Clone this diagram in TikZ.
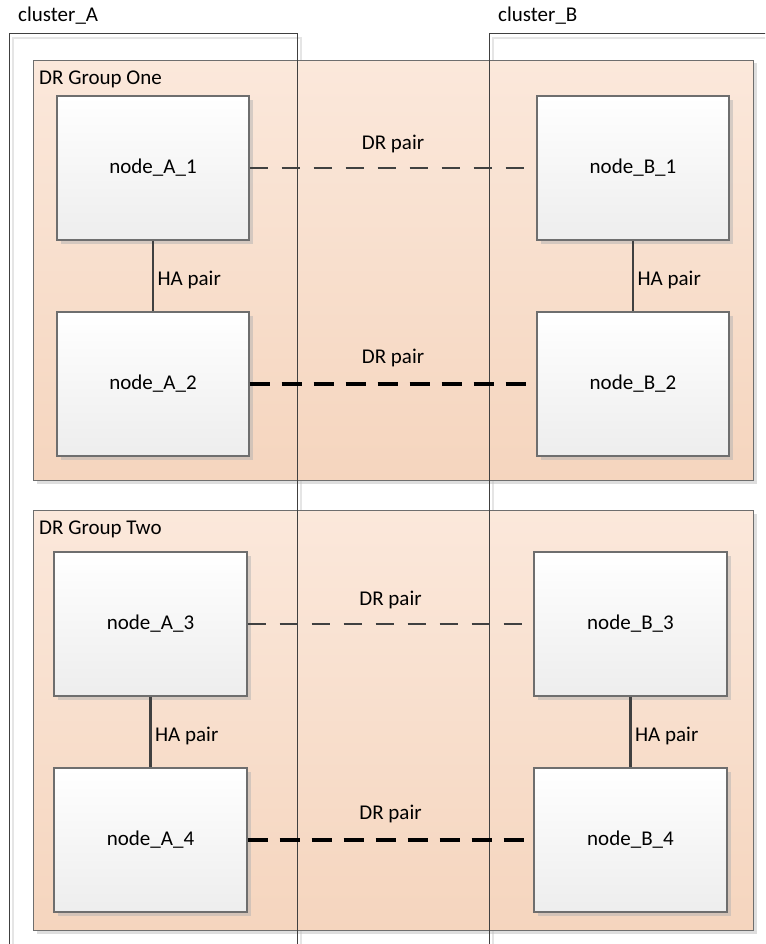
\documentclass[tikz,border=0pt]{standalone}
\usepackage{fontspec}
\setmainfont{Carlito}
\usetikzlibrary{shadows}
\definecolor{edgegray}{RGB}{64,64,64}
\definecolor{boxgray}{RGB}{110,110,110}
\definecolor{grptop}{RGB}{251,232,219}
\definecolor{grpbot}{RGB}{245,213,190}
\begin{document}
\begin{tikzpicture}[x=1pt,y=-1pt,
  every node/.style={font=\fontsize{21}{25}\selectfont},
  grpbox/.style={draw=boxgray,line width=1pt,top color=grptop,bottom color=grpbot,
    drop shadow={shadow xshift=3pt,shadow yshift=-3pt,fill=black!25,opacity=0.5},
    inner sep=0pt,anchor=north west},
  nodebox/.style={draw=boxgray,line width=1.3pt,top color=white,bottom color=black!7,
    drop shadow={shadow xshift=4pt,shadow yshift=-4pt,fill=black!30,opacity=0.5},
    minimum height=144pt,inner sep=0pt},
  clusterline/.style={draw=edgegray,line width=1pt},
  clustershadow/.style={draw=black!10,line width=2pt},
  hapair/.style={draw=edgegray,line width=2.6pt},
  halbl/.style={right,yshift=-4pt},
  drthin/.style={draw=edgegray,line width=2.6pt,dash pattern=on 18pt off 14pt},
  drthick/.style={draw=black,line width=3.4pt,dash pattern=on 20pt off 12pt},
  lbl/.style={inner sep=0pt,anchor=west}]
\useasboundingbox (0,0) rectangle (765,944);
\clip (0,0) rectangle (765,944);
\fill[white] (0,0) rectangle (765,944);

% cluster shadows
\draw[clustershadow] (13,38) rectangle (301,960);
\draw[clustershadow] (493,38) rectangle (790,960);

% DR groups
\node[grpbox,minimum width=720pt,minimum height=420pt] (grp1) at (33,60) {};
\node[grpbox,minimum width=720pt,minimum height=420pt] (grp2) at (33,510) {};
\node[lbl] (grp1lbl) at (39,79) {DR Group One};
\node[lbl] (grp2lbl) at (39,529) {DR Group Two};

% clusters
\draw[clusterline] (9,34) rectangle (297,960);
\draw[clusterline] (489,34) rectangle (790,960);
\node[lbl] (clA) at (18,16) {cluster\_A};
\node[lbl] (clB) at (498,16) {cluster\_B};

% storage nodes
\node[nodebox,minimum width=192pt] (A1) at (153,168) {node\_A\_1};
\node[nodebox,minimum width=192pt] (A2) at (153,384) {node\_A\_2};
\node[nodebox,minimum width=192pt] (B1) at (633,168) {node\_B\_1};
\node[nodebox,minimum width=192pt] (B2) at (633,384) {node\_B\_2};
\node[nodebox,minimum width=193pt] (A3) at (150.5,624) {node\_A\_3};
\node[nodebox,minimum width=193pt] (A4) at (150.5,840) {node\_A\_4};
\node[nodebox,minimum width=193pt] (B3) at (630.5,624) {node\_B\_3};
\node[nodebox,minimum width=193pt] (B4) at (630.5,840) {node\_B\_4};

% HA pairs
\draw[hapair] (A1) -- node[halbl] {HA pair} (A2);
\draw[hapair] (B1) -- node[halbl] {HA pair} (B2);
\draw[hapair] (A3) -- node[halbl] {HA pair} (A4);
\draw[hapair] (B3) -- node[halbl] {HA pair} (B4);

% DR pairs
\draw[drthin] (A1) -- node[midway,yshift=24pt] {DR pair} (B1);
\draw[drthick] (A2) -- node[midway,yshift=26pt] {DR pair} (B2);
\draw[drthin] (A3) -- node[midway,yshift=24pt] {DR pair} (B3);
\draw[drthick] (A4) -- node[midway,yshift=26pt] {DR pair} (B4);
\end{tikzpicture}
\end{document}
